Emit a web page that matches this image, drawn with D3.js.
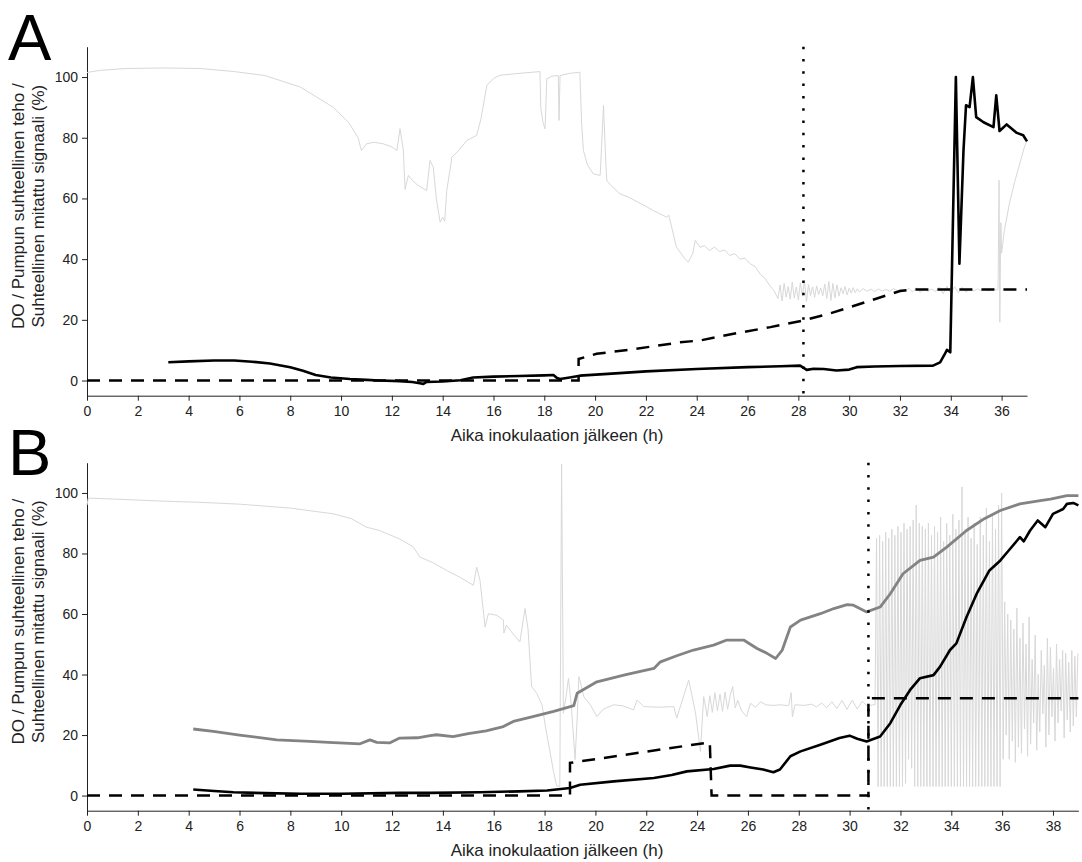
<!DOCTYPE html>
<html>
<head>
<meta charset="utf-8">
<script src="https://cdnjs.cloudflare.com/ajax/libs/d3/7.8.5/d3.min.js"></script>
<style>
  body { margin: 0; background: #fff; }
  svg { display: block; font-family: Arial, "Liberation Sans", sans-serif; }
</style>
</head>
<body>
<svg id="chart"></svg>
<script>
// ---- data: [time (h), value (%)] ----
const xLabel = 'Aika inokulaation jälkeen (h)';
const yLabel = ['DO / Pumpun suhteellinen teho /', 'Suhteellinen mitattu signaali (%)'];
const yTicks = [0, 20, 40, 60, 80, 100];
const yMinor = [10, 30, 50, 70, 90];
const xTicksA = [0, 2, 4, 6, 8, 10, 12, 14, 16, 18, 20, 22, 24, 26, 28, 30, 32, 34, 36];
const xMinorA = [1, 3, 5, 7, 9, 11, 13, 15, 17, 19, 21, 23, 25, 27, 29, 31, 33, 35, 37];
const xTicksB = [0, 2, 4, 6, 8, 10, 12, 14, 16, 18, 20, 22, 24, 26, 28, 30, 32, 34, 36, 38];
const xMinorB = [1, 3, 5, 7, 9, 11, 13, 15, 17, 19, 21, 23, 25, 27, 29, 31, 33, 35, 37, 39];

// A: measured signal (light grey)
const signalA = [
  [0, 101.5], [0.5, 102.2], [1.5, 102.8], [3, 103], [4.5, 102.8], [5.8, 101.8], [7, 100.5],
  [8.4, 96.7], [9.7, 90], [10.3, 85], [10.67, 80], [10.8, 75.8], [11.0, 78], [11.3, 78.5],
  [11.66, 78], [12.0, 77], [12.2, 75.8], [12.32, 83], [12.45, 76], [12.52, 63], [12.65, 67.6],
  [12.8, 66], [13.0, 64.5], [13.37, 62.6], [13.5, 72.5], [13.63, 70.3], [13.75, 60], [13.9, 52.2],
  [14.0, 53.8], [14.08, 52.5], [14.16, 62.6], [14.3, 70], [14.36, 73.6], [14.6, 75.5], [14.95, 79.1],
  [15.34, 80.8], [15.5, 86], [15.74, 97.3], [16.0, 99.5], [16.26, 100.6], [17.0, 101.2], [17.83, 101.8],
  [17.86, 90], [17.95, 85], [18.03, 82.9], [18.1, 99.4], [18.3, 100.3], [18.55, 100.5], [18.58, 85.7],
  [18.62, 100.5], [19.0, 101.2], [19.4, 101.6], [19.47, 84.6], [19.54, 75.8], [19.7, 71], [19.93, 68.1],
  [20.2, 67.6], [20.33, 90.7], [20.42, 72], [20.46, 65.9], [20.6, 64.5], [20.98, 61.5], [21.3, 60.5],
  [21.8, 58.3], [22.3, 56], [22.82, 53.8], [22.9, 54.5], [23.2, 44], [23.5, 40.5], [23.67, 39],
  [23.85, 42], [23.94, 46.2], [24.13, 43.9], [24.3, 44.5], [24.5, 42.8], [24.7, 44], [24.9, 42.5],
  [25.1, 43], [25.3, 41.2], [25.5, 41.8], [25.7, 40], [25.9, 40.3], [26.1, 38.5], [26.3, 37.5],
  [26.5, 35], [26.7, 33.5], [26.9, 31], [27.05, 29.5], [27.2, 27.0],
  [27.28, 31.5], [27.36, 26.2], [27.44, 32.0], [27.52, 27.5], [27.60, 31.0], [27.68, 26.8], [27.76, 32.4],
  [27.84, 27.2], [27.92, 30.8], [28.00, 26.5], [28.08, 32.2], [28.16, 27.8], [28.24, 33.0], [28.32, 26.0],
  [28.40, 31.6], [28.48, 28.0], [28.56, 30.9], [28.64, 27.4], [28.72, 31.2], [28.80, 28.3], [28.88, 30.5],
  [28.96, 27.9], [29.04, 31.8], [29.12, 27.0], [29.20, 32.6], [29.28, 26.4], [29.36, 32.0], [29.44, 27.2],
  [29.52, 31.5], [29.60, 27.8], [29.68, 30.6], [29.76, 28.6], [29.84, 31.0], [29.92, 28.2], [30.00, 30.4],
  [30.08, 28.8], [30.16, 30.6], [30.24, 29.0], [30.32, 30.2], [30.40, 29.2],
  [30.55, 30.3], [30.70, 29.4], [30.85, 30.1], [31.00, 29.3], [31.15, 30.2], [31.30, 29.5], [31.45, 30.0],
  [31.60, 29.4], [31.75, 30.3], [31.90, 29.5], [32.05, 30.1], [32.20, 29.3], [32.35, 30.4], [32.50, 29.2],
  [32.65, 30.6], [32.80, 29.0], [32.95, 30.5], [33.10, 29.4], [33.25, 30.2], [33.40, 29.3], [33.55, 30.8],
  [33.70, 28.6], [33.85, 31.0], [34.00, 28.7], [34.15, 30.9], [34.30, 29.0], [34.45, 30.7], [34.60, 29.1],
  [34.75, 30.3], [34.90, 29.5], [35.05, 30.2], [35.20, 29.6], [35.35, 30.1], [35.50, 29.5], [35.65, 30.3],
  [35.80, 29.8], [35.86, 30], [35.9, 66], [35.93, 19.2], [35.97, 52], [36.0, 42], [36.1, 49],
  [36.3, 58], [36.5, 65], [36.7, 71], [36.9, 77], [37.0, 79]
];

// A: dissolved oxygen (black)
const doA = [
  [3.2, 6.0], [4.0, 6.3], [5.0, 6.6], [5.8, 6.6], [6.5, 6.2], [7.2, 5.6], [8.0, 4.4], [8.5, 3.2],
  [9.0, 1.8], [9.6, 1.0], [10.35, 0.5], [11.0, 0.2], [11.5, 0], [12.3, -0.2], [12.8, -0.5], [13.1, -0.9],
  [13.24, -1.1], [13.35, -0.5], [14.0, -0.3], [14.7, 0.1], [15.2, 1.0], [16.0, 1.3], [17.0, 1.5],
  [18.0, 1.7], [18.36, 1.8], [18.5, 0.8], [18.62, 0.5], [19.0, 1.0], [19.4, 1.6], [20.5, 2.2],
  [22.0, 3.0], [24.0, 3.8], [26.0, 4.4], [27.3, 4.7], [28.07, 4.9], [28.33, 3.5], [28.6, 3.9],
  [29.0, 3.8], [29.5, 3.3], [30.0, 3.6], [30.3, 4.4], [31.0, 4.6], [32.0, 4.8], [33.3, 4.9],
  [33.58, 6.0], [33.75, 8.5], [33.85, 10.1], [33.98, 9.3], [34.2, 100], [34.34, 38.5], [34.5, 75.8],
  [34.6, 90.7], [34.74, 90.1], [34.87, 100], [35.0, 86.8], [35.29, 85.1], [35.68, 83.5], [35.79, 94],
  [35.92, 82.2], [36.2, 84.4], [36.6, 81.6], [36.85, 80.8], [37.0, 78.8]
];

// A: relative pump power (dashed)
const pumpA = [
  [0, 0], [19.35, 0], [19.35, 7.1], [20.06, 8.8], [21.5, 10.3], [23.35, 12.6], [24.13, 13.2],
  [25.5, 15.5], [26.9, 17.6], [28.2, 19.8], [29.2, 22], [30.04, 24.2], [31.0, 26.8], [32.0, 29.5],
  [32.5, 30], [37, 30]
];
const markerA = 28.2;

// B: measured signal (light grey)
const signalB = [
  [0, 96], [0.05, 98.3], [1, 98], [3, 97.3], [4.45, 96.9], [6, 96.3], [8, 95], [9.69, 93.1],
  [10.4, 91.5], [10.99, 88.7], [11.5, 87.6], [12.3, 84.8], [12.84, 82.1], [13.1, 78.8], [13.6, 77],
  [14.15, 74.4], [14.7, 72], [15.2, 69.5], [15.33, 75.5], [15.46, 71.1], [15.66, 55.7], [15.79, 60.1],
  [16.12, 59.6], [16.38, 58], [16.4, 53.7], [16.5, 56.3], [16.8, 53], [17.03, 50.8], [17.23, 61.8],
  [17.35, 55], [17.49, 36], [17.69, 33.8], [17.9, 30], [18.05, 22], [18.2, 15.1], [18.35, 8],
  [18.48, 3.1], [18.6, 3.1], [18.67, 109.5], [18.74, 27.2], [18.85, 33], [18.94, 38.8], [19.05, 30],
  [19.2, 11.9], [19.28, 25], [19.35, 39.3], [19.45, 36], [19.54, 32.7], [19.8, 30], [20.06, 26.1],
  [20.3, 28.5], [20.72, 30], [21.1, 29.6], [21.5, 28.3], [21.64, 31.6], [21.9, 29.4], [22.5, 29.2],
  [23.08, 29.4], [23.2, 25.6], [23.4, 31], [23.67, 38.2], [23.8, 33], [23.94, 27.2], [24.13, 14.6],
  [24.26, 32.7], [24.4, 26.1], [24.5, 33], [24.6, 27.5], [24.7, 34], [24.8, 28], [24.9, 33.5],
  [25.0, 27.8], [25.1, 34.2], [25.2, 28.5], [25.3, 33], [25.4, 36], [25.5, 29], [25.6, 31.5],
  [25.75, 28], [25.95, 26.1], [26.1, 30.5], [26.3, 29.2], [26.5, 31], [26.7, 30], [27.0, 29.8],
  [27.3, 30], [27.6, 29.7], [27.7, 34], [27.75, 26], [27.85, 30], [28.2, 29.8], [28.5, 30.2],
  [28.7, 29.3], [28.9, 30.6], [29.1, 29], [29.3, 31], [29.5, 28.8], [29.7, 31.4], [29.9, 28.5],
  [30.1, 31.5], [30.3, 28.6], [30.5, 31.2], [30.7, 29.5], [30.9, 30], [31.0, 30],
  [31.06, 85], [31.12, 3], [31.18, 86], [31.24, 3], [31.30, 84], [31.36, 3], [31.42, 87], [31.48, 3],
  [31.54, 85], [31.60, 3], [31.66, 88], [31.72, 3], [31.78, 86], [31.84, 3], [31.90, 89], [31.96, 3],
  [32.02, 87], [32.08, 3], [32.14, 90], [32.20, 4], [32.26, 88], [32.32, 12], [32.38, 89], [32.44, 9],
  [32.50, 91], [32.56, 3], [32.62, 96], [32.68, 3], [32.74, 90], [32.80, 3], [32.86, 89], [32.92, 3],
  [32.98, 88], [33.04, 3], [33.10, 90], [33.16, 3], [33.22, 86], [33.28, 3], [33.34, 89], [33.40, 3],
  [33.46, 87], [33.52, 3], [33.58, 92], [33.64, 3], [33.70, 84], [33.76, 3], [33.82, 90], [33.88, 3],
  [33.94, 86], [34.00, 3], [34.06, 93], [34.12, 3], [34.18, 88], [34.24, 3], [34.30, 91], [34.36, 3],
  [34.42, 102], [34.48, 3], [34.54, 88], [34.60, 3], [34.66, 92], [34.72, 3], [34.78, 85], [34.84, 3],
  [34.90, 90], [34.96, 3], [35.02, 83], [35.08, 3], [35.14, 92], [35.20, 3], [35.26, 86], [35.32, 3],
  [35.38, 95], [35.44, 3], [35.50, 84], [35.56, 3], [35.62, 93], [35.68, 3], [35.74, 88], [35.80, 3],
  [35.86, 96], [35.92, 3], [35.98, 100], [36.04, 12],
  [36.10, 64], [36.16, 20], [36.22, 60], [36.28, 12], [36.34, 58], [36.40, 18], [36.46, 55], [36.52, 11],
  [36.58, 62], [36.64, 16], [36.70, 52], [36.76, 14], [36.82, 57], [36.88, 22], [36.94, 50], [37.00, 13],
  [37.06, 59], [37.12, 17], [37.18, 45], [37.24, 24], [37.30, 53], [37.36, 15], [37.42, 40], [37.48, 21],
  [37.54, 48], [37.60, 27], [37.66, 43], [37.72, 16], [37.78, 52], [37.84, 20], [37.90, 49], [37.96, 26],
  [38.02, 42], [38.08, 18], [38.14, 50], [38.20, 24], [38.26, 45], [38.32, 28], [38.38, 48], [38.44, 19],
  [38.50, 47], [38.56, 25], [38.62, 44], [38.68, 21], [38.74, 48], [38.80, 23], [38.86, 46], [38.92, 26],
  [38.98, 47]
];

// B: reference trace (mid grey)
const refB = [
  [4.18, 22], [4.97, 21.2], [6.0, 20], [7.46, 18.4], [8.77, 17.9], [9.5, 17.6], [10.74, 17.1],
  [11.13, 18.4], [11.4, 17.6], [11.9, 17.4], [12.3, 19], [13.0, 19.1], [13.5, 19.8], [13.75, 20.1],
  [14.4, 19.5], [15.0, 20.5], [15.7, 21.4], [16.38, 22.8], [16.77, 24.5], [17.5, 26], [18.36, 27.8],
  [19.15, 29.7], [19.28, 33.8], [20.06, 37.6], [21.2, 40], [22.3, 42], [22.56, 44.2], [23.2, 46.2],
  [23.86, 48.1], [24.65, 49.7], [25.17, 51.4], [25.83, 51.4], [26.36, 48.6], [26.75, 47], [27.09, 45.3],
  [27.35, 48.1], [27.67, 55.7], [28.07, 58], [28.85, 60.1], [29.38, 61.8], [29.9, 63.1], [30.15, 62.9],
  [30.67, 60.7], [31.2, 62.3], [31.6, 66.7], [32.1, 73.3], [32.77, 77.7], [33.3, 78.8], [33.82, 82.1],
  [34.6, 87.6], [35.3, 91.5], [35.93, 94.2], [36.7, 96.4], [37.5, 97.5], [37.9, 98], [38.55, 99.1], [39, 99.1]
];

// B: dissolved oxygen (black)
const doB = [
  [4.18, 2.0], [5.0, 1.5], [5.76, 1.1], [7.0, 0.8], [8.4, 0.6], [10.0, 0.6], [12.3, 0.9], [13.5, 0.9],
  [15.46, 1.1], [17.0, 1.4], [18.1, 1.7], [19.0, 2.5], [19.4, 3.6], [20.72, 4.7], [22.3, 5.8],
  [23.0, 6.8], [23.6, 8.0], [24.65, 8.8], [25.3, 9.9], [25.7, 9.9], [26.1, 9.3], [26.6, 8.6],
  [27.0, 7.7], [27.26, 8.6], [27.67, 13], [28.07, 14.6], [28.85, 16.8], [29.6, 19], [30.0, 19.8],
  [30.3, 18.8], [30.67, 17.9], [31.2, 19.5], [31.6, 23.9], [32.0, 30], [32.38, 34.9], [32.77, 38.8],
  [33.3, 39.8], [33.56, 42.6], [33.95, 48.1], [34.2, 50.3], [34.6, 59], [35.0, 66.7], [35.5, 74.4],
  [35.93, 77.7], [36.2, 80.4], [36.7, 85.4], [36.85, 84], [37.1, 87.6], [37.4, 90.9], [37.7, 88.7],
  [38.0, 93.1], [38.4, 94.7], [38.55, 96.4], [38.8, 96.7], [39, 95.9]
];

// B: relative pump power (dashed)
const pumpB = [
  [0, 0], [19.0, 0], [19.0, 10.8], [24.5, 17.6], [24.57, 0], [30.74, 0], [30.74, 32.2], [39, 32.2]
];
const markerB = 30.74;

// ---- drawing ----
const width = 1082;
const height = 862;
const svg = d3.select('#chart').attr('width', width).attr('height', height);

function drawPanel(p) {
  const x = d3.scaleLinear().domain(p.xDomain).range([p.left, p.right]);
  const y = d3.scaleLinear().domain([-5, 110]).range([p.bottom, p.top]);
  const g = svg.append('g');
  const line = d3.line().x(d => x(d[0])).y(d => y(d[1]));

  // panel letter
  g.append('text')
    .attr('x', 8)
    .attr('y', p.letterY)
    .attr('font-size', '65px')
    .attr('fill', '#000')
    .text(p.letter);

  // axes (major + minor ticks, pointing out)
  const xAxis = g.append('g').attr('transform', `translate(0,${p.bottom})`);
  xAxis.call(d3.axisBottom(x).tickValues(p.xMinor).tickSize(3).tickSizeOuter(0).tickFormat(''));
  xAxis.call(d3.axisBottom(x).tickValues(p.xTicks).tickSize(5).tickPadding(5).tickSizeOuter(0));

  const yAxis = g.append('g').attr('transform', `translate(${p.left},0)`);
  yAxis.call(d3.axisLeft(y).tickValues(yMinor).tickSize(3).tickSizeOuter(0).tickFormat(''));
  yAxis.call(d3.axisLeft(y).tickValues(yTicks).tickSize(5).tickPadding(4).tickSizeOuter(0));

  g.selectAll('.domain, .tick line').attr('stroke', '#222');
  g.selectAll('.tick text').attr('font-size', '14px').attr('fill', '#222')
    .attr('font-family', 'Arial, "Liberation Sans", sans-serif');

  // axis titles
  g.append('text')
    .attr('x', 557)
    .attr('y', p.bottom + 45)
    .attr('text-anchor', 'middle')
    .attr('font-size', '17px')
    .attr('fill', '#222')
    .text(xLabel);

  const cy = (p.top + p.bottom) / 2 - 15;
  yLabel.forEach((t, i) => {
    g.append('text')
      .attr('transform', `translate(${24 + i * 20},${cy}) rotate(-90)`)
      .attr('text-anchor', 'middle')
      .attr('font-size', '17px')
      .attr('fill', '#222')
      .text(t);
  });

  // series
  g.append('path').datum(p.signal)
    .attr('d', line).attr('fill', 'none')
    .attr('stroke', '#d8d8d8').attr('stroke-width', 1);

  if (p.ref) {
    g.append('path').datum(p.ref)
      .attr('d', line).attr('fill', 'none')
      .attr('stroke', '#838383').attr('stroke-width', 2.8)
      .attr('stroke-linejoin', 'round');
  }

  g.append('path').datum(p.pump)
    .attr('d', line).attr('fill', 'none')
    .attr('stroke', '#000').attr('stroke-width', 2.5)
    .attr('stroke-dasharray', '13,9');

  g.append('path').datum(p.dox)
    .attr('d', line).attr('fill', 'none')
    .attr('stroke', '#000').attr('stroke-width', 2.6)
    .attr('stroke-linejoin', 'round');

  // dotted marker
  g.append('line')
    .attr('x1', x(p.marker)).attr('x2', x(p.marker))
    .attr('y1', y(110)).attr('y2', y(-5))
    .attr('stroke', '#000').attr('stroke-width', 2.5)
    .attr('stroke-dasharray', '2.5,9.8');
}

drawPanel({
  letter: 'A', letterY: 60,
  xDomain: [0, 37], left: 87, right: 1027, top: 46.7, bottom: 395.7,
  xTicks: xTicksA, xMinor: xMinorA,
  signal: signalA, pump: pumpA, dox: doA, marker: markerA
});

drawPanel({
  letter: 'B', letterY: 475,
  xDomain: [0, 39], left: 87, right: 1078.4, top: 462.7, bottom: 810.7,
  xTicks: xTicksB, xMinor: xMinorB,
  signal: signalB, ref: refB, pump: pumpB, dox: doB, marker: markerB
});
</script>
</body>
</html>
